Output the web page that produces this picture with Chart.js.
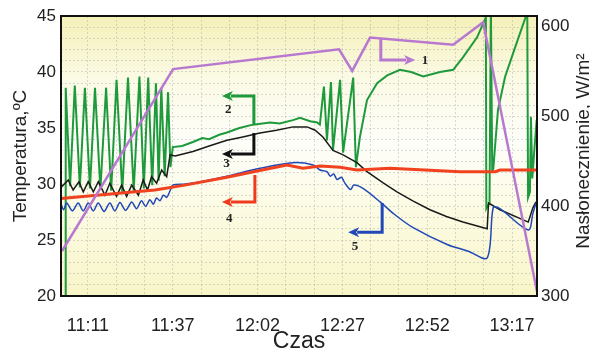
<!DOCTYPE html>
<html>
<head>
<meta charset="utf-8">
<script src="https://cdn.jsdelivr.net/npm/chart.js@4"></script>
<style>
  html, body { margin: 0; padding: 0; background: #fff; }
  #wrap { width: 590px; height: 354px; }
</style>
</head>
<body>
<div id="wrap"><canvas id="myChart" width="590" height="354"></canvas></div>
<script>

// time axis is in minutes after 11:00
const xTickMinutes = [11, 36.2, 61.4, 86.6, 111.8, 137];
const xTickLabels = ['11:11', '11:37', '12:02', '12:27', '12:52', '13:17'];
const tempTicks = [20, 25, 30, 35, 40, 45];
const sunTicks = [300, 400, 500, 600];

// 1 - nasłonecznienie (W/m2, right axis)
const sunMin = [3.3, 36.3, 85.6, 89.5, 94.8, 119.5, 128.4, 144.4];
const sunVal = [350, 552, 574, 550, 587, 579, 604, 305];

// 2 - green
const greenMin = [4.2, 4.4, 5.7, 7.1, 8.6, 10.1, 11.6, 13.1, 14.7, 16.4, 17.9, 19.5, 21.2,
  22.9, 24.6, 26.3, 27.6, 28.9, 30.1, 31.2, 32.0, 32.8, 33.8, 34.8, 35.5, 36.2, 39, 42.2,
  45, 47, 50, 52.3, 56, 60.0, 65.1, 68, 71.9, 74.0, 77, 79.1, 79.9, 81.1, 82.0, 83.2, 83.8,
  85.9, 86.8, 89.8, 90.6, 91.8, 93.9, 96.9, 99.9, 103.7, 107, 110.6, 115.6, 119.5, 122.4,
  126.6, 129.1, 129.2, 129.35, 130.3, 130.7, 131.1, 131.4, 132.8, 134.9, 137.9, 140.9,
  141.5, 141.75, 142.3, 142.6, 143.0, 143.6, 144.3];
const greenTemp = [20, 38.6, 29.8, 38.8, 29.7, 38.6, 29.6, 38.6, 29.5, 38.6, 29.4, 39.3, 29.3,
  39.5, 29.4, 39.6, 29.6, 39.5, 29.9, 39.0, 30.3, 38.6, 30.7, 38.2, 31.5, 33.3, 33.4, 33.75,
  34.1, 34.0, 34.4, 34.6, 35.0, 35.3, 35.5, 35.4, 35.7, 35.9, 35.6, 35.5, 35.3, 38.7, 33.9, 39.1, 33.0,
  39.3, 32.8, 39.5, 31.5, 34.2, 37.5, 39.0, 39.7, 40.2, 40.0, 39.6, 40.0, 40.2, 41.3,
  43.1, 44.8, 46, 27.8, 28.3, 46, 31.2, 31.3, 36.6, 39.55, 42.2, 44.8,
  46, 28.8, 29.3, 36.0, 30.5, 33, 35.7];

// 3 - black
const blackMin = [3.0, 5.15, 6.6, 8.33, 9.6, 11.1, 12.6, 14.1, 16.05, 17.5, 19.5, 21.0, 22.5,
  24.0, 26.0, 27.4, 28.7, 29.9, 31.4, 32.9, 34.4, 35.4, 36.9, 42.2, 47, 52.3, 57, 62.1, 67,
  71.9, 76.1, 78.5, 80.8, 83.8, 86.8, 90.9, 93.9, 98.7, 102.8, 107.5, 112.6, 117.5, 122.4,
  129.6, 130.0, 133.4, 141.8, 143.2, 144.1];
const blackTemp = [29.7, 30.36, 29.46, 30.2, 29.3, 30.2, 29.3, 30.2, 29.0, 30.06, 28.9, 29.9, 28.9,
  29.9, 29.0, 30.36, 29.46, 30.65, 30.06, 31.25, 30.65, 32.6, 32.5, 32.9, 33.4, 33.9, 34.2, 34.55, 34.8,
  35.1, 35.1, 34.8, 34.2, 33.0, 32.6, 31.9, 31.1, 30.1, 29.3, 28.5, 27.7, 27.1, 26.6,
  26.0, 28.3, 27.7, 26.6, 27.9, 28.4];

// 4 - red
const redMin = [3.0, 21.0, 30.9, 39.8, 52.3, 62, 70.1, 74.9, 80, 85.9, 90.9, 100.7, 121.5, 132.0, 133.4, 144.4];
const redTemp = [28.7, 29.2, 29.46, 29.9, 30.6, 31.2, 31.7, 31.4, 31.6, 31.5, 31.25, 31.4, 31.1, 31.1, 31.25, 31.25];

// 5 - blue
const blueMin = [3.0, 3.8, 4.67, 6.4, 8.1, 9.6, 11.1, 12.6, 14.06, 15.8, 17.5, 19.0, 20.5, 22.2,
  24.0, 25.45, 26.9, 28.15, 29.4, 30.4, 31.4, 32.4, 33.4, 34.4, 35.4, 36.2, 40, 46, 52.3, 62.1,
  71.9, 77.9, 79.9, 82.0, 83.0, 84.0, 85.0, 86.3, 87.3, 89.0, 90.0, 92.7, 97.8, 102, 107.6,
  117.7, 124, 129.6, 131.4, 133.4, 141.8, 143.2, 144.1];
const blueTemp = [28.2, 27.7, 28.3, 27.6, 28.3, 27.6, 28.3, 27.6, 28.3, 27.55, 28.3, 27.6, 28.35, 27.65,
  28.4, 27.8, 28.5, 28.0, 28.6, 28.2, 28.75, 28.5, 29.0, 28.8, 29.4, 29.9, 30.0, 30.3, 30.7, 31.4,
  31.9, 31.7, 31.25, 31.1, 30.7, 30.9, 30.4, 30.6, 30.1, 29.5, 29.9, 29.6, 28.4, 27.3, 26.1,
  24.6, 24.0, 23.4, 27.9, 27.8, 25.9, 27.4, 28.3];

// L-shaped arrows with numbers (minutes, temperature)
const arrows = [
  { n: '1', color: '#b878d0', pts: [[98.0, 42.95], [98.0, 41.07], [108.2, 41.07]], label: [111.1, 41.0] },
  { n: '2', color: '#1e9a3c', pts: [[60.3, 35.27], [60.3, 37.86], [50.8, 37.86]], label: [52.7, 36.6] },
  { n: '3', color: '#111111', pts: [[60.3, 34.55], [60.3, 32.68], [50.8, 32.68]], label: [52.2, 31.8] },
  { n: '4', color: '#f03a1e', pts: [[60.6, 30.8], [60.6, 28.4], [50.8, 28.4]], label: [53.0, 26.9] },
  { n: '5', color: '#2048b8', pts: [[98.4, 28.3], [98.4, 25.7], [88.3, 25.7]], label: [90.3, 24.4] }
];

function pairs(xs, ys) {
  return xs.map((x, i) => ({ x: x, y: ys[i] }));
}

const ticksFont = { family: 'Liberation Sans, Arial', size: 17 };

const bgPlugin = {
  id: 'bg',
  beforeDraw(chart) {
    const { ctx, chartArea: a } = chart;
    ctx.save();
    ctx.fillStyle = '#ffffff';
    ctx.fillRect(0, 0, chart.width, chart.height);
    const g = ctx.createLinearGradient(0, a.top, 0, a.bottom);
    g.addColorStop(0, '#f4f0b8');
    g.addColorStop(0.22, '#fbfae4');
    g.addColorStop(0.45, '#fefefa');
    g.addColorStop(0.7, '#fcfbe2');
    g.addColorStop(1, '#f8f5c8');
    ctx.fillStyle = g;
    ctx.fillRect(a.left, a.top, a.right - a.left, a.bottom - a.top);
    ctx.restore();
  },
  afterDatasetsDraw(chart) {
    const { ctx } = chart;
    const x = chart.scales.x, y = chart.scales.y;
    ctx.save();
    arrows.forEach(ar => {
      const p = ar.pts.map(q => [x.getPixelForValue(q[0]), y.getPixelForValue(q[1])]);
      const tip = p[p.length - 1], prev = p[p.length - 2];
      const ang = Math.atan2(tip[1] - prev[1], tip[0] - prev[0]);
      const hl = 11, hw = 5;
      ctx.strokeStyle = ar.color;
      ctx.fillStyle = ar.color;
      ctx.lineWidth = 3;
      ctx.beginPath();
      ctx.moveTo(p[0][0], p[0][1]);
      for (let i = 1; i < p.length - 1; i++) ctx.lineTo(p[i][0], p[i][1]);
      ctx.lineTo(tip[0] - Math.cos(ang) * (hl - 2), tip[1] - Math.sin(ang) * (hl - 2));
      ctx.stroke();
      ctx.beginPath();
      ctx.moveTo(tip[0], tip[1]);
      ctx.lineTo(tip[0] - Math.cos(ang) * hl - Math.sin(ang) * hw, tip[1] - Math.sin(ang) * hl + Math.cos(ang) * hw);
      ctx.lineTo(tip[0] - Math.cos(ang) * (hl - 3), tip[1] - Math.sin(ang) * (hl - 3));
      ctx.lineTo(tip[0] - Math.cos(ang) * hl + Math.sin(ang) * hw, tip[1] - Math.sin(ang) * hl - Math.cos(ang) * hw);
      ctx.closePath();
      ctx.fill();
      ctx.fillStyle = '#222';
      ctx.font = 'bold 13px "Liberation Serif", serif';
      ctx.textAlign = 'center';
      ctx.textBaseline = 'middle';
      ctx.fillText(ar.n, x.getPixelForValue(ar.label[0]), y.getPixelForValue(ar.label[1]));
    });
    ctx.restore();
  },
  afterDraw(chart) {
    const { ctx, chartArea: a } = chart;
    ctx.save();
    ctx.strokeStyle = '#111';
    ctx.lineWidth = 2;
    ctx.strokeRect(a.left, a.top, a.right - a.left, a.bottom - a.top);
    // right axis title reads bottom to top, like the left one
    ctx.translate(589, (a.top + a.bottom) / 2 - 5);
    ctx.rotate(-Math.PI / 2);
    ctx.fillStyle = '#222';
    ctx.font = '19px "Liberation Sans", Arial';
    ctx.textAlign = 'center';
    ctx.textBaseline = 'alphabetic';
    ctx.fillText('Nasłonecznienie, W/m²', 0, 0);
    ctx.restore();
  }
};

const ctx = document.getElementById('myChart');

new Chart(ctx, {
  type: 'line',
  data: {
    datasets: [
      { label: '1', data: pairs(sunMin, sunVal), yAxisID: 'y2', borderColor: '#b878d0', borderWidth: 2.5 },
      { label: '4', data: pairs(redMin, redTemp), yAxisID: 'y', borderColor: '#f0421e', borderWidth: 3 },
      { label: '5', data: pairs(blueMin, blueTemp), yAxisID: 'y', borderColor: '#2048b8', borderWidth: 1.5, tension: 0.3 },
      { label: '3', data: pairs(blackMin, blackTemp), yAxisID: 'y', borderColor: '#1a1a1a', borderWidth: 1.5 },
      { label: '2', data: pairs(greenMin, greenTemp), yAxisID: 'y', borderColor: '#1e9a3c', borderWidth: 2 }
    ]
  },
  options: {
    responsive: false,
    animation: false,
    devicePixelRatio: 1,
    layout: { padding: { top: 16, left: 0, right: 0, bottom: 0 } },
    elements: { point: { radius: 0 }, line: { tension: 0 } },
    plugins: { legend: { display: false }, tooltip: { enabled: false } },
    scales: {
      x: {
        type: 'linear', min: 3, max: 144.4,
        afterBuildTicks(s) {
          const t = [];
          for (let i = 0; i < xTickMinutes.length; i++) {
            t.push({ value: xTickMinutes[i] });
            if (i < xTickMinutes.length - 1) {
              const d = (xTickMinutes[i + 1] - xTickMinutes[i]) / 3;
              t.push({ value: xTickMinutes[i] + d }, { value: xTickMinutes[i] + 2 * d });
            }
          }
          s.ticks = t;
        },
        afterFit(s) { s.height = 58; },
        ticks: {
          autoSkip: false, maxRotation: 0, padding: 19, color: '#222',
          font: { family: 'Liberation Sans, Arial', size: 18 },
          callback(v) {
            const i = xTickMinutes.findIndex(m => Math.abs(m - v) < 0.01);
            return i >= 0 ? xTickLabels[i] : '';
          }
        },
        grid: { color: 'rgba(150,150,150,0.35)', lineWidth: 1, drawTicks: false, tickLength: 0 },
        border: { display: false, dash: [2, 2] },
        title: { display: true, text: 'Czas', color: '#222', padding: { top: 0, bottom: 1 },
          font: { family: 'Liberation Sans, Arial', size: 23, lineHeight: 1 } }
      },
      y: {
        position: 'left', min: 20, max: 45,
        afterBuildTicks(s) {
          const t = [];
          for (let v = 20; v <= 45; v++) t.push({ value: v });
          s.ticks = t;
        },
        afterFit(s) { s.width = 61; },
        ticks: {
          autoSkip: false, padding: 5, color: '#222', font: ticksFont,
          callback(v) { return tempTicks.includes(v) ? String(v) : ''; }
        },
        grid: { color: 'rgba(150,150,150,0.35)', lineWidth: 1, drawTicks: false, tickLength: 0 },
        border: { display: false, dash: [2, 2] },
        title: { display: true, text: 'Temperatura,ºC', color: '#222', padding: { top: 11, bottom: 0 },
          font: { family: 'Liberation Sans, Arial', size: 19, lineHeight: 1 } }
      },
      y2: {
        position: 'right', min: 300, max: 611,
        afterBuildTicks(s) { s.ticks = sunTicks.map(v => ({ value: v })); },
        afterFit(s) { s.width = 53; },
        ticks: { autoSkip: false, padding: 4, color: '#222', font: ticksFont },
        grid: { display: false, drawTicks: false, tickLength: 0 },
        border: { display: false }
      }
    }
  },
  plugins: [bgPlugin]
});

</script>
</body>
</html>
